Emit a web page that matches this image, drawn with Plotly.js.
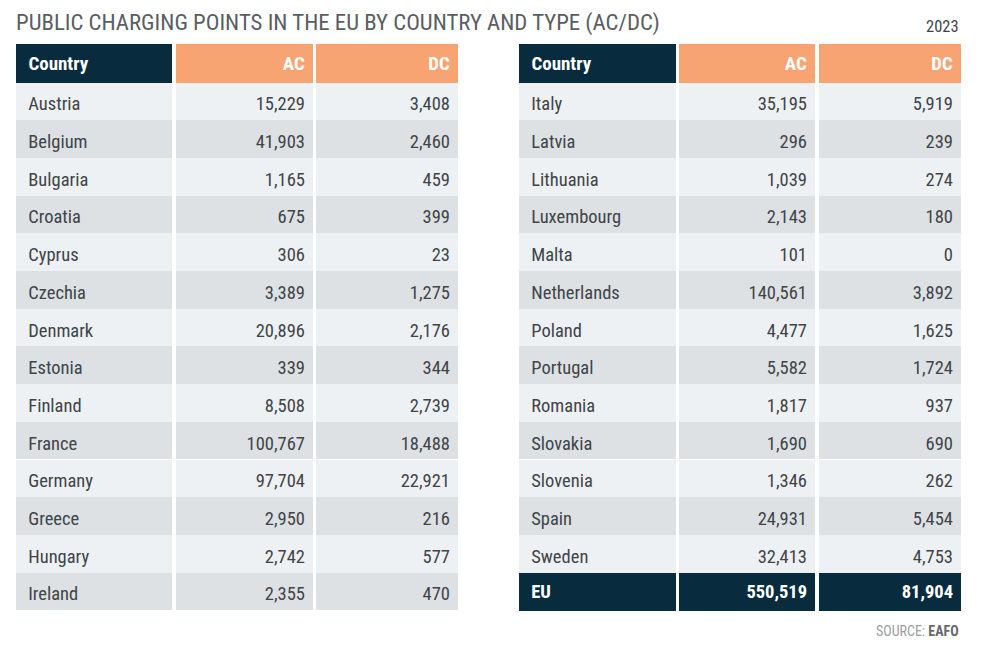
<!DOCTYPE html>
<html><head><meta charset="utf-8">
<script src="https://cdn.plot.ly/plotly-3.0.1.min.js"></script>
<style>
html,body{margin:0;padding:0;background:#fff}
#chart{width:1000px;height:654px}
#chart .table .cell-text{transform:translateY(6px)}
</style>
</head><body><div id="chart"></div>
<script>
const headers = ["Country", "AC", "DC"];
const leftCountries = ["Austria","Belgium","Bulgaria","Croatia","Cyprus","Czechia","Denmark","Estonia","Finland","France","Germany","Greece","Hungary","Ireland"];
const leftAC = [15229,41903,1165,675,306,3389,20896,339,8508,100767,97704,2950,2742,2355];
const leftDC = [3408,2460,459,399,23,1275,2176,344,2739,18488,22921,216,577,470];
const rightCountries = ["Italy","Latvia","Lithuania","Luxembourg","Malta","Netherlands","Poland","Portugal","Romania","Slovakia","Slovenia","Spain","Sweden","EU"];
const rightAC = [35195,296,1039,2143,101,140561,4477,5582,1817,1690,1346,24931,32413,550519];
const rightDC = [5919,239,274,180,0,3892,1625,1724,937,690,262,5454,4753,81904];
const titleText = "PUBLIC CHARGING POINTS IN THE EU BY COUNTRY AND TYPE (AC/DC)";
const yearText = "2023";
const sourceLabel = "SOURCE:";
const sourceName = "EAFO";

const FONT = "'Roboto Condensed', 'Liberation Sans Narrow', 'DejaVu Sans Condensed', Roboto, sans-serif";
const NAVY = "#082c3e", ORANGE = "#f8a472", LIGHT = "#eef1f3", GRAY = "#dde1e4", TXT = "#404448";
const W = 1000, H = 654;
const fmt = v => v.toLocaleString('en-US');
const NB = "\u00a0";

const colsX = {
  left: [[16,173],[176,313],[316,458]],
  right: [[519,676],[679,816],[819,961]]
};
const headerH = 38.5, rowH = 37.7;
const rowsTop = 82;
const tableTop = rowsTop - headerH, tableBottom = 614;

function makeCols(countries, ac, dc, xs, hasTotal) {
  const colsData = [countries.map(c => NB + c), ac.map(fmt), dc.map(fmt)];
  return colsData.map((vals, ci) => {
    const n = vals.length;
    const fills = vals.map((_, i) => (hasTotal && i === n-1) ? NAVY : (i % 2 === 0 ? LIGHT : GRAY));
    const colors = vals.map((_, i) => (hasTotal && i === n-1) ? "#ffffff" : TXT);
    const txt = vals.map((v, i) => (hasTotal && i === n-1) ? "<b>" + v + "</b>" : v);
    return {
      type: "table",
      domain: {x: [xs[ci][0]/W, xs[ci][1]/W], y: [1 - tableBottom/H, 1 - tableTop/H]},
      columnwidth: [1],
      header: {
        values: ["<b>" + (ci === 0 ? NB : "") + headers[ci] + "</b>"],
        align: ci === 0 ? "left" : "right",
        fill: {color: ci === 0 ? NAVY : ORANGE},
        line: {width: 0, color: ci === 0 ? NAVY : ORANGE},
        font: {family: FONT, size: 19, color: "#ffffff"},
        height: headerH
      },
      cells: {
        values: [txt],
        align: ci === 0 ? "left" : "right",
        fill: {color: [fills]},
        line: {width: 0, color: [fills]},
        font: {family: FONT, size: 18.5, color: [colors]},
        height: rowH
      }
    };
  });
}

const data = [
  ...makeCols(leftCountries, leftAC, leftDC, colsX.left, false),
  ...makeCols(rightCountries, rightAC, rightDC, colsX.right, true)
];

const layout = {
  width: W, height: H,
  margin: {l: 0, r: 0, t: 0, b: 0},
  paper_bgcolor: "#ffffff",
  showlegend: false,
  annotations: [
    {text: titleText, xref: "paper", yref: "paper", x: 14/W, y: 1 - 22.5/H, xanchor: "left", yanchor: "middle", showarrow: false, font: {family: FONT, size: 22.8, color: "#5a5e62"}},
    {text: yearText, xref: "paper", yref: "paper", x: 961/W, y: 1 - 26/H, xanchor: "right", yanchor: "middle", showarrow: false, font: {family: FONT, size: 16.5, color: "#444"}},
    {text: sourceLabel + " <b><span style='color:#666a6e'>" + sourceName + "</span></b>", xref: "paper", yref: "paper", x: 961/W, y: 1 - 631/H, xanchor: "right", yanchor: "middle", showarrow: false, font: {family: FONT, size: 14, color: "#9a9da0"}}
  ]
};

Plotly.newPlot("chart", data, layout, {displayModeBar: false, staticPlot: true});
</script></body></html>
